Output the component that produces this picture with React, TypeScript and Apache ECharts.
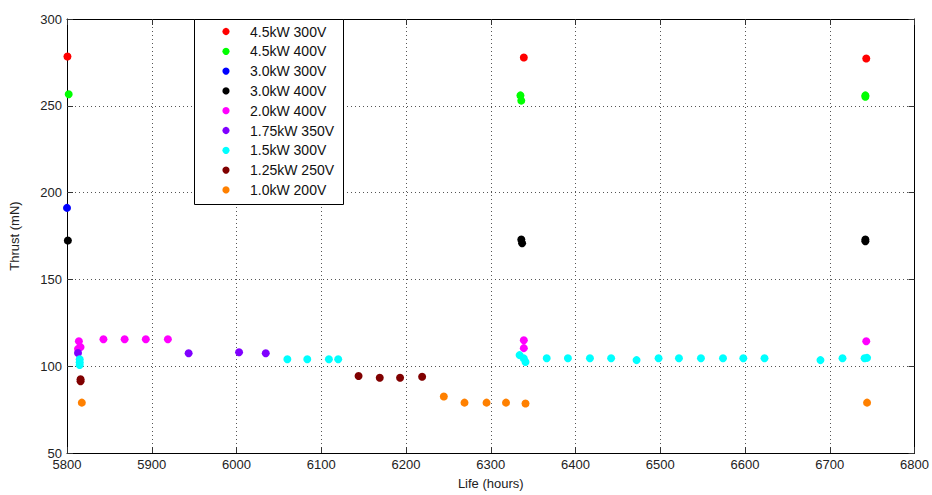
import React, { useEffect, useRef } from "react";
import * as echarts from "echarts";

const seriesNames = [
  "4.5kW 300V",
  "4.5kW 400V",
  "3.0kW 300V",
  "3.0kW 400V",
  "2.0kW 400V",
  "1.75kW 350V",
  "1.5kW 300V",
  "1.25kW 250V",
  "1.0kW 200V",
];

const seriesColors = [
  "#ff0000",
  "#00ff00",
  "#0000ff",
  "#000000",
  "#ff00ff",
  "#8000ff",
  "#00ffff",
  "#800000",
  "#ff8000",
];

const s45_300 = [[5800.5, 278.4], [6339, 277.8], [6743, 277.2]];
const s45_400 = [[5802, 256.7], [6335, 256], [6336, 253], [6742, 256], [6742, 255.2]];
const s30_300 = [[5800, 191.2]];
const s30_400 = [[5801, 172.4], [6336, 173], [6337, 170.8], [6742, 173], [6742, 172]];
const s20_400 = [
  [5814, 114.4], [5816, 111], [5813, 110], [5843, 115.5], [5868, 115.5],
  [5893, 115.5], [5919, 115.5], [6339, 114.9], [6339, 110.4], [6743, 114.4],
];
const s175_350 = [[5813, 107.6], [5943.5, 107.5], [6003, 108], [6034.5, 107.5]];
const s15_300 = [
  [5815, 104], [5815, 102.3], [5815, 100.7], [6060, 104], [6083.5, 104], [6109, 104],
  [6120, 104], [6334, 106.4], [6339, 104.5], [6341, 102.4], [6366, 104.6], [6391, 104.6],
  [6417, 104.6], [6442, 104.6], [6472, 103.5], [6498, 104.6], [6522, 104.6], [6548, 104.6],
  [6574, 104.6], [6598, 104.6], [6623, 104.6], [6689, 103.5], [6715, 104.6], [6741, 104.6],
  [6744, 104.8],
];
const s125_250 = [[5816, 92.5], [5816, 91.3], [6144, 94.4], [6169, 93.3], [6193, 93.3], [6219, 93.9]];
const s10_200 = [[5817.5, 79], [6244.6, 82.5], [6269, 79], [6295, 79], [6318, 79], [6341, 78.5], [6744, 79]];

const seriesData = [s45_300, s45_400, s30_300, s30_400, s20_400, s175_350, s15_300, s125_250, s10_200];

const xMin = 5800;
const xMax = 6800;
const xStep = 100;
const yMin = 50;
const yMax = 300;
const yStep = 50;

const tickFont = "'Liberation Sans Narrow', 'Liberation Sans', Arial, sans-serif";
const legendFont = "'Liberation Sans', Arial, sans-serif";

export default function App() {
  const ref = useRef<HTMLDivElement>(null);

  useEffect(() => {
    document.body.style.margin = "0";
    if (!ref.current) return;
    const chart = echarts.init(ref.current, undefined, { renderer: "svg", width: 932, height: 495 });

    const gridLine = { show: true, lineStyle: { color: "#555", type: [1, 3], width: 1 } };
    const axisLine = { show: true, lineStyle: { color: "#000", width: 1 } };
    const axisTick = { show: true, inside: true, length: 6, lineStyle: { color: "#333", width: 1 } };

    const legendX = 194;
    const legendY = 19;
    const rowTop = 31.5;
    const rowPitch = 19.8;
    const legendElements: any[] = [
      {
        type: "rect",
        shape: { x: legendX + 0.5, y: legendY + 0.5, width: 149, height: 185 },
        style: { fill: "#fff", stroke: "#000", lineWidth: 1 },
        z: 100,
      },
    ];
    seriesNames.forEach((name, i) => {
      const cy = rowTop + i * rowPitch;
      legendElements.push({
        type: "circle",
        shape: { cx: 226, cy, r: 3.6 },
        style: { fill: seriesColors[i] },
        z: 101,
      });
      legendElements.push({
        type: "text",
        x: 250,
        y: cy,
        style: {
          text: name,
          fill: "#111",
          font: `14px ${legendFont}`,
          verticalAlign: "middle",
          align: "left",
        },
        z: 101,
      });
    });

    chart.setOption({
      animation: false,
      backgroundColor: "#fff",
      grid: { left: 59, top: 19, width: 857, height: 439, containLabel: false },
      graphic: legendElements,
      xAxis: [
        {
          type: "value",
          min: xMin,
          max: xMax,
          interval: xStep,
          name: "Life (hours)",
          nameLocation: "middle",
          nameGap: 24,
          nameTextStyle: { fontSize: 13, color: "#222", fontFamily: tickFont },
          axisLine,
          axisTick,
          axisLabel: {
            margin: 5,
            fontSize: 13,
            color: "#222",
            fontFamily: tickFont,
            formatter: (v: number) => String(v),
          },
          splitLine: gridLine,
        },
        {
          type: "value",
          position: "top",
          min: xMin,
          max: xMax,
          interval: xStep,
          axisLine,
          axisTick,
          axisLabel: { show: false },
          splitLine: { show: false },
        },
      ],
      yAxis: [
        {
          type: "value",
          min: yMin,
          max: yMax,
          interval: yStep,
          name: "Thrust (mN)",
          nameLocation: "middle",
          nameGap: 46,
          nameTextStyle: { fontSize: 13, color: "#222", fontFamily: tickFont },
          axisLine,
          axisTick,
          axisLabel: { margin: 5, fontSize: 13, color: "#222", fontFamily: tickFont },
          splitLine: gridLine,
        },
        {
          type: "value",
          position: "right",
          min: yMin,
          max: yMax,
          interval: yStep,
          axisLine,
          axisTick,
          axisLabel: { show: false },
          splitLine: { show: false },
        },
      ],
      series: seriesNames.map((name, i) => ({
        name,
        type: "scatter",
        xAxisIndex: 0,
        yAxisIndex: 0,
        symbol: "circle",
        symbolSize: 8,
        itemStyle: { color: seriesColors[i], opacity: 1 },
        data: seriesData[i],
      })),
    });

    return () => chart.dispose();
  }, []);

  return (
    <div
      ref={ref}
      style={{ position: "absolute", left: 0, top: 0, width: 932, height: 495 }}
    />
  );
}
